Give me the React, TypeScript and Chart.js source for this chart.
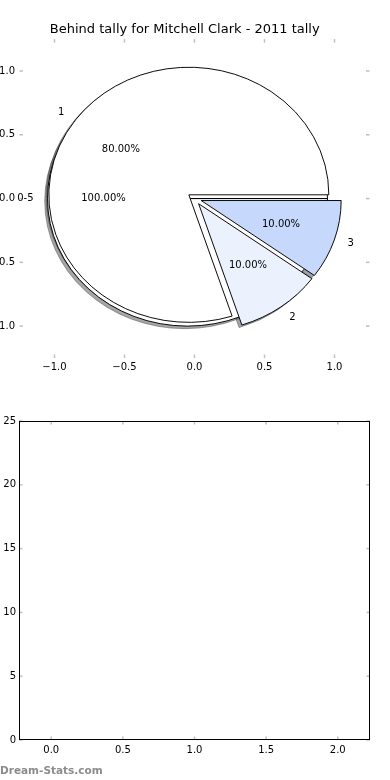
import React, { useEffect, useRef } from 'react';
import { Chart, registerables } from 'chart.js';

Chart.register(...registerables);

// ---- data ----
const TITLE = 'Behind tally for Mitchell Clark - 2011 tally';
const SLICE_LABELS = ['1', '2', '3'];
const SLICE_VALUES = [80, 10, 10];
const SLICE_EXPLODE = [0.05, 0.05, 0.05];
const BASE_LABELS = ['0-5'];
const BASE_VALUES = [100];
const BASE_EXPLODE = [0.05];
const PIE_X_TICKS = [-1, -0.5, 0, 0.5, 1];
const PIE_Y_TICKS = [-1, -0.5, 0, 0.5, 1];
const PIE_LIMITS = [-1.25, 1.25];
const BAR_X_TICKS = [0, 0.5, 1, 1.5, 2];
const BAR_Y_TICKS = [0, 5, 10, 15, 20, 25];
const BAR_X_LIMITS = [-0.225, 2.225];
const BAR_Y_LIMITS = [0, 25];
const WATERMARK = 'Dream-Stats.com';

// ---- style ----
const SLICE_COLORS = ['#ffffff', '#ebf2fe', '#c6d9fd'];
const BASE_COLORS = ['#ffffff'];
const FONT = '"DejaVu Sans", "Liberation Sans", sans-serif';
const TICK_MARK = '#c0c0c0';
const TAU = Math.PI * 2;

const fmt1 = (v: number) => Number(v).toFixed(1).replace('-', '\u2212');
const fmt0 = (v: number) => String(Math.round(Number(v)));

const shadowOf = (hex: string) => {
  const n = parseInt(hex.slice(1), 16);
  const r = Math.round(((n >> 16) & 255) * 0.3);
  const g = Math.round(((n >> 8) & 255) * 0.3);
  const b = Math.round((n & 255) * 0.3);
  return `rgba(${r},${g},${b},0.5)`;
};

const frameTicksPlugin = (drawFrame: boolean) => ({
  id: 'frameTicks',
  afterDraw(chart: any) {
    const { ctx, chartArea: a, scales } = chart;
    const L = 3.5;
    ctx.save();
    ctx.strokeStyle = TICK_MARK;
    ctx.lineWidth = 1.5;
    const seg = (x1: number, y1: number, x2: number, y2: number) => {
      ctx.beginPath();
      ctx.moveTo(x1, y1);
      ctx.lineTo(x2, y2);
      ctx.stroke();
    };
    scales.x.ticks.forEach((t: any) => {
      const p = scales.x.getPixelForValue(t.value);
      seg(p, a.top, p, a.top + L);
      seg(p, a.bottom, p, a.bottom - L);
    });
    scales.y.ticks.forEach((t: any) => {
      const p = scales.y.getPixelForValue(t.value);
      seg(a.left, p, a.left + L, p);
      seg(a.right, p, a.right - L, p);
    });
    if (drawFrame) {
      ctx.strokeStyle = '#000';
      ctx.lineWidth = 1;
      ctx.strokeRect(Math.round(a.left) + 0.5, Math.round(a.top) + 0.5,
        Math.round(a.right) - Math.round(a.left) - 1, Math.round(a.bottom) - Math.round(a.top) - 1);
    }
    ctx.restore();
  },
});

const axisCfg = (limits: number[], ticks: number[], fmt: (v: number) => string, fit: (ax: any) => void, pad: number) => ({
  type: 'linear',
  min: limits[0],
  max: limits[1],
  grid: { display: false, drawTicks: false, tickLength: 0 },
  border: { display: false },
  afterBuildTicks: (ax: any) => { ax.ticks = ticks.map((v) => ({ value: v })); },
  afterFit: fit,
  ticks: {
    callback: (v: any) => fmt(v),
    color: '#000',
    font: { family: FONT, size: 10 },
    padding: pad,
    maxRotation: 0,
    autoSkip: false,
  },
});

type Geo = { cx: number; cy: number; rx: number; ry: number };

const makePiePlugin = (geo: Geo, info: { labels: string[]; explode: number[] }[]) => ({
  id: 'mplPie',
  afterDatasetsUpdate(chart: any) {
    chart.data.datasets.forEach((_ds: any, di: number) => {
      const meta = chart.getDatasetMeta(di);
      meta.data.forEach((arc: any, i: number) => {
        const mid = (arc.startAngle + arc.endAngle) / 2;
        const e = info[di].explode[i];
        arc.x = geo.cx + e * geo.rx * Math.cos(mid);
        arc.y = geo.cy + e * geo.rx * Math.sin(mid);
        arc.innerRadius = 0;
        arc.outerRadius = geo.rx;
        if (arc.circumference >= TAU - 1e-9) arc.circumference = TAU + 1e-7;
      });
    });
  },
  beforeDatasetsDraw(chart: any) {
    const { ctx } = chart;
    const { cx, cy, rx, ry } = geo;
    ctx.save();
    ctx.translate(cx, cy);
    ctx.scale(1, ry / rx);
    ctx.translate(-cx, -cy);
    // shadows beneath every wedge
    chart.data.datasets.forEach((ds: any, di: number) => {
      const meta = chart.getDatasetMeta(di);
      meta.data.forEach((arc: any, i: number) => {
        const col = shadowOf(ds.backgroundColor[i]);
        ctx.save();
        ctx.translate(-0.02 * rx, 0.02 * rx);
        ctx.beginPath();
        if (arc.circumference >= TAU - 1e-9) {
          ctx.arc(arc.x, arc.y, arc.outerRadius, 0, TAU);
        } else {
          ctx.moveTo(arc.x, arc.y);
          ctx.arc(arc.x, arc.y, arc.outerRadius, arc.startAngle, arc.endAngle);
        }
        ctx.closePath();
        ctx.fillStyle = col;
        ctx.strokeStyle = col;
        ctx.lineWidth = 1;
        ctx.fill();
        ctx.stroke();
        ctx.restore();
      });
    });
  },
  afterDatasetsDraw(chart: any) {
    const { ctx } = chart;
    const { cx, cy, rx, ry } = geo;
    ctx.restore();
    ctx.save();
    ctx.font = `10px ${FONT}`;
    ctx.fillStyle = '#000';
    ctx.textBaseline = 'middle';
    chart.data.datasets.forEach((ds: any, di: number) => {
      const meta = chart.getDatasetMeta(di);
      const total = ds.data.reduce((s: number, v: number) => s + v, 0);
      meta.data.forEach((arc: any, i: number) => {
        const full = arc.circumference >= TAU - 1e-9;
        const m = full ? arc.startAngle + Math.PI : (arc.startAngle + arc.endAngle) / 2;
        const c = Math.cos(m);
        const s = Math.sin(m);
        const e = info[di].explode[i];
        ctx.textAlign = 'center';
        ctx.fillText(((ds.data[i] / total) * 100).toFixed(2) + '%', cx + (e + 0.6) * rx * c, cy + (e + 0.6) * ry * s);
        ctx.textAlign = c > 0 ? 'left' : 'right';
        ctx.fillText(info[di].labels[i], cx + (e + 1.1) * rx * c, cy + (e + 1.1) * ry * s);
      });
    });
    ctx.restore();
  },
});

const W = 390;
const H = 390;

export default function App() {
  const axesRef = useRef<HTMLCanvasElement>(null);
  const pieRef = useRef<HTMLCanvasElement>(null);
  const barRef = useRef<HTMLCanvasElement>(null);

  useEffect(() => {
    const axes = new Chart(axesRef.current!, {
      type: 'scatter',
      data: { datasets: [{ data: [] }] },
      options: {
        responsive: false,
        animation: false,
        events: [],
        layout: { padding: { top: 0, left: 0, right: 20.5, bottom: 0 } },
        plugins: {
          legend: { display: false },
          tooltip: { enabled: false },
          title: {
            display: true,
            text: TITLE,
            color: '#000',
            font: { family: FONT, size: 13, weight: 'normal' },
            padding: { top: 22, bottom: 1.5 },
          },
        },
        scales: {
          x: axisCfg(PIE_LIMITS, PIE_X_TICKS, fmt1, (ax: any) => { ax.height = 32; }, 3),
          y: axisCfg(PIE_LIMITS, PIE_Y_TICKS, fmt1, (ax: any) => { ax.width = 19.5; }, 4.5),
        },
      } as any,
      plugins: [frameTicksPlugin(false)],
    });

    const xs: any = axes.scales.x;
    const ys: any = axes.scales.y;
    const cx = xs.getPixelForValue(0);
    const cy = ys.getPixelForValue(0);
    const geo: Geo = { cx, cy, rx: xs.getPixelForValue(1) - cx, ry: cy - ys.getPixelForValue(1) };

    const rev = <T,>(a: T[]) => [...a].reverse();
    const pie = new Chart(pieRef.current!, {
      type: 'pie',
      data: {
        labels: rev(SLICE_LABELS),
        datasets: [
          {
            data: rev(SLICE_VALUES),
            backgroundColor: rev(SLICE_COLORS),
            borderColor: '#000',
            borderWidth: 1,
            order: 0,
            clip: false,
          },
          {
            data: BASE_VALUES,
            backgroundColor: BASE_COLORS,
            borderColor: '#000',
            borderWidth: 1,
            order: 1,
            clip: false,
          },
        ],
      },
      options: {
        responsive: false,
        animation: false,
        events: [],
        rotation: 90,
        plugins: { legend: { display: false }, tooltip: { enabled: false }, title: { display: false } },
      } as any,
      plugins: [
        makePiePlugin(geo, [
          { labels: rev(SLICE_LABELS), explode: rev(SLICE_EXPLODE) },
          { labels: BASE_LABELS, explode: BASE_EXPLODE },
        ]),
      ],
    });

    const bar = new Chart(barRef.current!, {
      type: 'scatter',
      data: { datasets: [{ data: [] }] },
      options: {
        responsive: false,
        animation: false,
        events: [],
        layout: { padding: { top: 31, left: 0, right: 20, bottom: 0 } },
        plugins: { legend: { display: false }, tooltip: { enabled: false }, title: { display: false } },
        scales: {
          x: axisCfg(BAR_X_LIMITS, BAR_X_TICKS, fmt1, (ax: any) => { ax.height = 40; }, 4),
          y: axisCfg(BAR_Y_LIMITS, BAR_Y_TICKS, fmt0, (ax: any) => { ax.width = 19; }, 3),
        },
      } as any,
      plugins: [frameTicksPlugin(true)],
    });

    return () => {
      pie.destroy();
      axes.destroy();
      bar.destroy();
    };
  }, []);

  const abs = (top: number): React.CSSProperties => ({ position: 'absolute', left: 0, top, display: 'block' });

  return (
    <div style={{ position: 'absolute', left: 0, top: 0, width: 390, height: 780, background: '#fff', overflow: 'hidden' }}>
      <canvas ref={axesRef} width={W} height={H} style={{ ...abs(0), width: W, height: H }} />
      <canvas ref={pieRef} width={W} height={H} style={{ ...abs(0), width: W, height: H }} />
      <canvas ref={barRef} width={W} height={H} style={{ ...abs(390), width: W, height: H }} />
      <div
        style={{
          position: 'absolute',
          left: 0,
          top: 763,
          lineHeight: '14px',
          fontFamily: FONT,
          fontSize: 10.5,
          fontWeight: 'bold',
          color: '#8c8c8c',
          whiteSpace: 'nowrap',
        }}
      >
        {WATERMARK}
      </div>
    </div>
  );
}
